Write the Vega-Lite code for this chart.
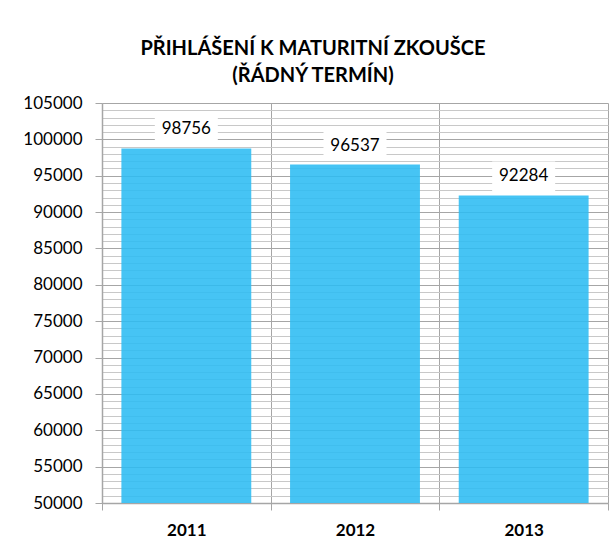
{
  "$schema": "https://vega.github.io/schema/vega-lite/v6.json",
  "autosize": "none",
  "width": 506,
  "height": 400,
  "padding": {"left": 102, "top": 103, "right": 6, "bottom": 51},
  "background": "white",
  "config": {
    "view": {"stroke": null},
    "font": "Lato"
  },
  "title": {
    "text": ["PŘIHLÁŠENÍ K MATURITNÍ ZKOUŠCE", "(ŘÁDNÝ TERMÍN)"],
    "font": "Lato",
    "fontSize": 20,
    "fontWeight": "bold",
    "color": "#000000",
    "lineHeight": 27,
    "anchor": "middle",
    "frame": "group",
    "dx": -42,
    "offset": 8
  },
  "data": {
    "values": [
      {"year": "2011", "value": 98756},
      {"year": "2012", "value": 96537},
      {"year": "2013", "value": 92284}
    ]
  },
  "encoding": {
    "x": {
      "field": "year",
      "type": "nominal",
      "scale": {"paddingInner": 0, "paddingOuter": 0},
      "axis": {
        "title": null,
        "labelAngle": 0,
        "labelFont": "Lato",
        "labelFontSize": 17,
        "labelFontWeight": "bold",
        "labelColor": "#000000",
        "labelPadding": 12,
        "grid": true,
        "tickBand": "extent",
        "gridColor": "#a6a6a6",
        "gridWidth": 1,
        "domainColor": "#a6a6a6",
        "domainWidth": 1.5,
        "tickColor": "#a6a6a6",
        "tickSize": 7
      }
    },
    "y": {
      "field": "value",
      "type": "quantitative",
      "scale": {"domain": [50000, 105000], "zero": false, "nice": false},
      "axis": {
        "title": null,
        "values": [50000,51000,52000,53000,54000,55000,56000,57000,58000,59000,60000,61000,62000,63000,64000,65000,66000,67000,68000,69000,70000,71000,72000,73000,74000,75000,76000,77000,78000,79000,80000,81000,82000,83000,84000,85000,86000,87000,88000,89000,90000,91000,92000,93000,94000,95000,96000,97000,98000,99000,100000,101000,102000,103000,104000,105000],
        "labelExpr": "datum.value % 5000 === 0 ? format(datum.value, 'd') : ''",
        "labelFont": "Lato",
        "labelFontSize": 17,
        "labelColor": "#000000",
        "labelPadding": 13,
        "tickSize": 7,
        "tickColor": "#a6a6a6",
        "tickOpacity": {"condition": {"test": "datum.value % 5000 === 0", "value": 1}, "value": 0},
        "domainColor": "#a6a6a6",
        "domainWidth": 1.5,
        "grid": true,
        "gridColor": {"condition": {"test": "datum.value % 5000 === 0", "value": "#a6a6a6"}, "value": "#c8c8c8"},
        "gridWidth": 1
      }
    }
  },
  "layer": [
    {
      "mark": {"type": "bar", "color": "#2cbcf3", "opacity": 0.88, "clip": true, "width": {"band": 0.77}}
    },
    {
      "mark": {"type": "tick", "color": "white", "opacity": 1, "size": 63, "thickness": 30, "yOffset": -19}
    },
    {
      "mark": {"type": "text", "dy": -19, "baseline": "middle", "align": "center", "font": "Lato", "fontSize": 17, "color": "#000000"},
      "encoding": {"text": {"field": "value", "type": "quantitative", "format": "d"}}
    }
  ]
}
